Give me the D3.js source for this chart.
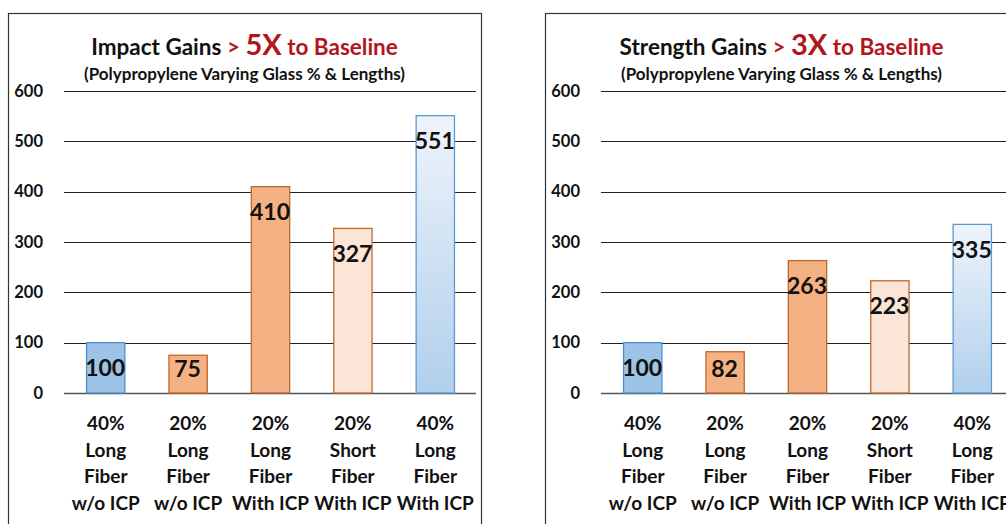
<!DOCTYPE html>
<html>
<head>
<meta charset="utf-8">
<script src="https://cdn.jsdelivr.net/npm/d3@7"></script>
<style>
  html, body { margin: 0; padding: 0; background: #fff; }
  svg { display: block; }
  text { font-family: Lato, "Open Sans", sans-serif; font-weight: 700; }
</style>
</head>
<body>
<svg id="chart" width="1006" height="524"></svg>
<script>
// ---- Data ----
const categories = [
  ["40%", "Long", "Fiber", "w/o ICP"],
  ["20%", "Long", "Fiber", "w/o ICP"],
  ["20%", "Long", "Fiber", "With ICP"],
  ["20%", "Short", "Fiber", "With ICP"],
  ["40%", "Long", "Fiber", "With ICP"]
];
const impactValues = [100, 75, 410, 327, 551];
const strengthValues = [100, 82, 263, 223, 335];
const yTicks = [0, 100, 200, 300, 400, 500, 600];
const impactTitle = ["Impact Gains", "> ", "5X", " to Baseline"];
const strengthTitle = ["Strength Gains", "> ", "3X", " to Baseline"];
const subtitleText = "(Polypropylene Varying Glass % & Lengths)";

// ---- Styles ----
const barFills = ["#9dc3e6", "#f4b183", "#f4b183", "#fbe5d6", "url(#blueGrad)"];
const barStrokes = ["#4f8fcf", "#c0692b", "#b8682e", "#c0692b", "#5b9bd5"];
const red = "#b0161c";

const svg = d3.select("#chart");
const defs = svg.append("defs");
const grad = defs.append("linearGradient").attr("id", "blueGrad")
  .attr("x1", 0).attr("y1", 0).attr("x2", 0).attr("y2", 1);
grad.append("stop").attr("offset", "0%").attr("stop-color", "#eef4fb");
grad.append("stop").attr("offset", "100%").attr("stop-color", "#b1cfec");

function drawPanel(offsetX, values, titleParts) {
  const g = svg.append("g").attr("transform", `translate(${offsetX},0)`);
  const panelX = 8, panelW = 473;
  g.append("rect").attr("x", panelX + 0.5).attr("y", 13.5)
    .attr("width", panelW).attr("height", 600)
    .attr("fill", "#fff").attr("stroke", "#333").attr("stroke-width", 1.2);

  const x0 = 64, x1 = 476;
  const y = d3.scaleLinear().domain([0, 600]).range([393, 91]);
  const x = d3.scaleBand().domain(d3.range(values.length)).range([x0, x1])
    .paddingInner(0.535).paddingOuter(0.2675);

  // gridlines
  g.append("g").selectAll("line").data(yTicks).join("line")
    .attr("x1", x0).attr("x2", x1)
    .attr("y1", d => Math.round(y(d)) + 0.5).attr("y2", d => Math.round(y(d)) + 0.5)
    .attr("stroke", d => d === 0 ? "#555" : "#222")
    .attr("stroke-width", d => d === 0 ? 1.6 : 1);

  // y axis labels
  const yAxis = d3.axisLeft(y).tickValues(yTicks).tickSize(0).tickPadding(0).tickFormat(d3.format("d"));
  const ya = g.append("g").attr("transform", "translate(43,0)").call(yAxis);
  ya.select(".domain").remove();
  ya.selectAll("text").attr("font-family", "Lato, sans-serif").attr("font-weight", 700)
    .attr("font-size", 16.5).attr("fill", "#111");

  // bars
  g.append("g").selectAll("rect").data(values).join("rect")
    .attr("x", (d, i) => x(i) + 0.5)
    .attr("y", d => y(d))
    .attr("width", x.bandwidth())
    .attr("height", d => y(0) - y(d))
    .attr("fill", (d, i) => barFills[i])
    .attr("stroke", (d, i) => barStrokes[i])
    .attr("stroke-width", 1.3);

  // value labels
  g.append("g").selectAll("text").data(values).join("text")
    .attr("x", (d, i) => x(i) + x.bandwidth() / 2)
    .attr("y", d => Math.min(y(d) + 25, y(0) - 24))
    .attr("dy", "0.36em")
    .attr("text-anchor", "middle")
    .attr("font-size", 23).attr("font-weight", 800).attr("fill", "#111")
    .text(d => d);

  // x labels
  const xl = g.append("g").selectAll("text").data(categories).join("text")
    .attr("text-anchor", "middle")
    .attr("font-size", 19).attr("fill", "#111");
  xl.each(function(lines, i) {
    const t = d3.select(this);
    lines.forEach((ln, k) => {
      t.append("tspan").attr("x", x(i) + x.bandwidth() / 2 + 0.5)
        .attr("y", 430 + k * 26.5).text(ln);
    });
  });

  // title
  const cx = panelX + panelW / 2;
  const title = g.append("text").attr("x", cx).attr("y", 55)
    .attr("text-anchor", "middle").attr("font-size", 22.5).attr("fill", "#111");
  title.append("tspan").text(titleParts[0] + " ");
  title.append("tspan").attr("fill", red).text(titleParts[1]);
  title.append("tspan").attr("fill", red).attr("font-size", 29).text(titleParts[2]);
  title.append("tspan").attr("fill", red).text(titleParts[3]);

  g.append("text").attr("x", cx).attr("y", 80)
    .attr("text-anchor", "middle").attr("font-size", 17).attr("fill", "#111")
    .text(subtitleText);
}

drawPanel(0, impactValues, impactTitle);
drawPanel(537, strengthValues, strengthTitle);
</script>
</body>
</html>
